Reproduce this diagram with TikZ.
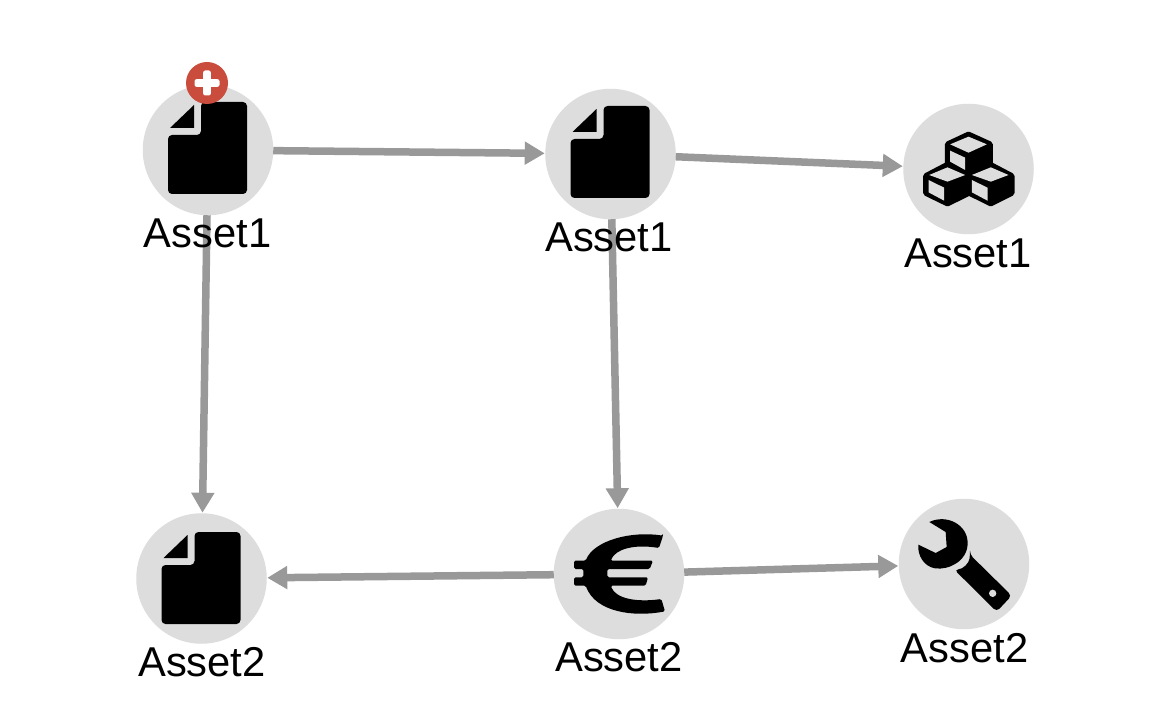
\documentclass[tikz,border=0pt]{standalone}
\usepackage{fontspec}
\setmainfont{Liberation Sans}
\usetikzlibrary{arrows.meta}
\definecolor{disc}{HTML}{DDDDDD}
\definecolor{edgegrey}{HTML}{999999}
\definecolor{badgered}{HTML}{C94C3C}
\tikzset{
  asset/.style={circle,fill=disc,minimum size=130.5pt,inner sep=0pt,outer sep=0pt},
  lab/.style={inner sep=0pt,font=\fontsize{41.7}{47}\selectfont,text=black},
  conn/.style={draw=edgegrey,line width=7.5pt,shorten >=0.5pt,-{Triangle[length=20pt,width=22pt,color=edgegrey]}},
  badge/.style={circle,fill=badgered,minimum size=42pt,inner sep=0pt},
  fileicon/.pic={
    \fill[black,rounded corners=4pt] (-7,-48) -- (39,-48) -- (39,44) -- (-40,44) -- (-40,-15) -- (-7,-15) -- cycle;
    \fill[black] (-38,-22) -- (-14,-45) -- (-14,-22) -- cycle;
  },
  cubesicon/.pic={
    \begin{scope}[scale=1/3,shift={(-235,-237)}]
    \fill[black,draw=black,line width=6pt,line join=round] (235,134) -- (299,163) -- (299,224) -- (364,258) -- (364,309) -- (302,340) -- (237,308) -- (172,340) -- (108,309) -- (108,258) -- (173,224) -- (173,163) -- cycle;
    \fill[disc] (235,140) -- (290,163) -- (235,188) -- (180,163) -- cycle;
    \fill[disc] (180,182) -- (225,203) -- (225,240) -- (180,215) -- cycle;
    \fill[disc] (172,232) -- (225,255) -- (172,275) -- (117,255) -- cycle;
    \fill[disc] (115,270) -- (162,293) -- (162,332) -- (115,307) -- cycle;
    \fill[disc] (302,232) -- (355,255) -- (302,275) -- (245,255) -- cycle;
    \fill[disc] (245,270) -- (292,293) -- (292,332) -- (245,307) -- cycle;
    \end{scope}
  },
  euroicon/.pic={
    \begin{scope}[scale=1/3,shift={(-235,-250)}]
    \fill[black,rounded corners=1.5pt] (367,135) -- (355,172) .. controls (280,160) and (225,175) .. (210,210) -- (337,210) -- (327,235) -- (200,235) -- (200,260) -- (322,260) -- (315,285) -- (210,285) .. controls (225,325) and (290,335) .. (362,325) -- (373,362) .. controls (280,380) and (165,365) .. (135,285) -- (100,285) -- (100,260) -- (128,260) -- (128,235) -- (100,235) -- (100,210) -- (135,210) .. controls (160,150) and (270,120) .. (367,135) -- cycle;
    \end{scope}
  },
  wrenchicon/.pic={
    \begin{scope}[scale=1/3,shift={(-237,-223)}]
    \fill[black] (133,97) .. controls (185,72) and (248,105) .. (248,160) .. controls (248,215) and (190,242) .. (150,236) .. controls (115,230) and (97,195) .. (100,165) -- (152,190) -- (185,172) -- (182,127) -- cycle;
    \fill[black,rounded corners=4pt] (255,195) -- (380,318) -- (335,366) -- (208,240) .. controls (235,238) and (252,220) .. (255,195) -- cycle;
    \fill[disc] (323,311) circle (11);
    \end{scope}
  },
}
\begin{document}
\begin{tikzpicture}[x=1pt,y=-1pt]
\useasboundingbox (0,0) rectangle (1176,714);
\fill[white] (0,0) rectangle (1176,714);
\node[asset] (a) at (208,150) {};
\node[asset] (b) at (610.5,154) {};
\node[asset] (c) at (968.5,169) {};
\node[asset] (d) at (201.5,578.5) {};
\node[asset] (e) at (619,574) {};
\node[asset] (f) at (964,564) {};
\draw[conn] (a) -- (b);
\draw[conn] (b) -- (c);
\draw[conn] (a) -- (d);
\draw[conn] (b) -- (e);
\draw[conn] (e) -- (d);
\draw[conn] (e) -- (f);
\pic at (a) {fileicon};
\pic at (b) {fileicon};
\pic at ([yshift=-1.5pt]d) {fileicon};
\pic at (c) {cubesicon};
\pic at (e) {euroicon};
\pic at (f) {wrenchicon};
\node[badge] (plus) at (207,83) {};
\fill[white,rounded corners=2pt] ([shift={(-12.5pt,-3.8pt)}]plus.center) rectangle ([shift={(12.5pt,3.8pt)}]plus.center);
\fill[white,rounded corners=2pt] ([shift={(-3.8pt,-12.5pt)}]plus.center) rectangle ([shift={(3.8pt,12.5pt)}]plus.center);
\node[lab] (la) at (207.5,233) {Asset1};
\node[lab] (lb) at (609,237) {Asset1};
\node[lab] (lc) at (968,253) {Asset1};
\node[lab] (ld) at (202,662) {Asset2};
\node[lab] (le) at (619,657) {Asset2};
\node[lab] (lf) at (964.5,648) {Asset2};
\end{tikzpicture}
\end{document}
